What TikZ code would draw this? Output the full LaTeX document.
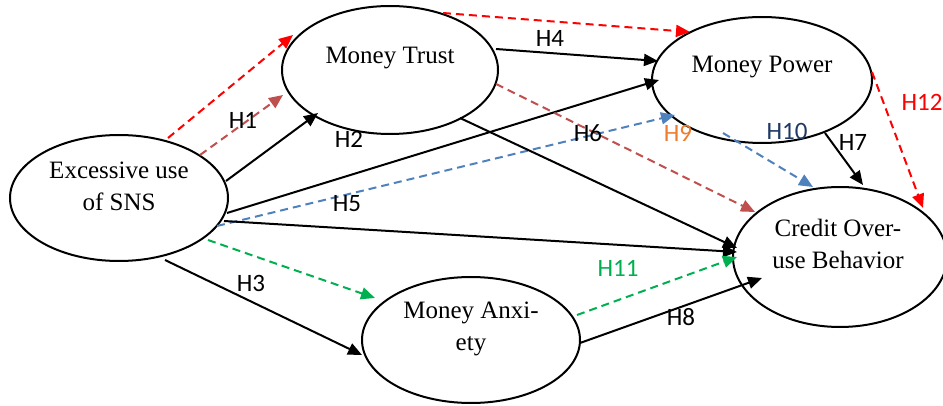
\documentclass[tikz,border=0pt]{standalone}
\usepackage{fontspec}
\setmainfont{Liberation Serif}
\newfontfamily\labfont{Carlito}
\usetikzlibrary{arrows.meta,shapes.geometric,calc}
\definecolor{cred}{HTML}{FF0000}
\definecolor{cbrown}{HTML}{C0504D}
\definecolor{cblue}{HTML}{4F81BD}
\definecolor{cgreen}{HTML}{00B050}
\definecolor{corange}{HTML}{ED7D31}
\definecolor{cnavy}{HTML}{1F3864}
\tikzset{
  oval/.style={ellipse, draw=black, line width=2pt, inner sep=0pt},
  txt/.style={font=\fontsize{25}{32}\selectfont, align=center, inner sep=0pt},
  hlab/.style={font=\labfont\fontsize{25}{28}\selectfont, inner sep=0pt},
  conn/.style={line width=2pt, -{Triangle[length=14pt,width=12pt]}},
  dconn/.style={conn, dash pattern=on 8pt off 5pt},
}
\begin{document}
\begin{tikzpicture}[x=1pt,y=-1pt]
\useasboundingbox (0,0) rectangle (943,406);
% ellipses
\node[oval, minimum width=218pt, minimum height=126pt] (sns) at (119,198) {};
\node[oval, minimum width=216pt, minimum height=128pt] (mt) at (390,70) {};
\node[oval, minimum width=220pt, minimum height=126pt] (mp) at (762,80) {};
\node[oval, minimum width=214pt, minimum height=140pt] (cob) at (840,257) {};
\node[oval, minimum width=218pt, minimum height=126pt] (ma) at (471,340) {};
% texts
\node[txt] (snsT) at ($(sns)+(0,-12)$) {Excessive use\\of SNS};
\node[txt] (mtT) at ($(mt)+(0,-12)$) {Money Trust};
\node[txt] (mpT) at ($(mp)+(0,-13)$) {Money Power};
\node[txt] (cobT) at ($(cob)+(-2,-13)$) {Credit Over-\\use Behavior};
\node[txt] (maT) at ($(ma)+(0,-11)$) {Money Anxi-\\ety};
% connectors from SNS
\draw[dconn, cred] ($(sns)+(49,-60)$) -- ($(mt)+(-97,-35)$);
\draw[dconn, cbrown] ($(sns)+(81,-43)$) -- ($(mt)+(-107,25)$);
\draw[conn] ($(sns)+(107,-17)$) -- ($(mt)+(-72,43)$);
\draw[conn] ($(sns)+(108,15)$) -- ($(mp)+(-103,0)$);
\draw[dconn, cblue] ($(sns)+(98,28)$) -- ($(mp)+(-87,35)$);
\draw[conn] ($(sns)+(105,23)$) -- ($(cob)+(-103,-5)$);
\draw[dconn, cgreen] ($(sns)+(89,42)$) -- ($(ma)+(-96,-42)$);
\draw[conn] ($(sns)+(46,62)$) -- ($(ma)+(-109,15)$);
% from Money Trust
\draw[dconn, cred] ($(mt)+(53,-57)$) -- ($(mp)+(-72,-48)$);
\draw[conn] ($(mt)+(106,-21)$) -- ($(mp)+(-104,-19)$);
\draw[dconn, cbrown] ($(mt)+(106,14)$) -- ($(cob)+(-85,-45)$);
\draw[conn] ($(mt)+(70,48)$) -- ($(cob)+(-103,-9)$);
% from Money Power
\draw[dconn, cblue] ($(mp)+(-39,53)$) -- ($(cob)+(-27,-70)$);
\draw[conn] ($(mp)+(63,53)$) -- ($(cob)+(23,-72)$);
\draw[dconn, cred] ($(mp)+(110,-8)$) -- ($(cob)+(83,-49)$);
% from Money Anxiety
\draw[dconn, cgreen] ($(ma)+(106,-25)$) -- ($(cob)+(-103,0)$);
\draw[conn] ($(ma)+(109,3)$) -- ($(cob)+(-78,21)$);
% labels
\node[hlab] (h1) at (243,120) {H1};
\node[hlab] (h2) at (349,139) {H2};
\node[hlab] (h3) at (251,283) {H3};
\node[hlab] (h4) at (550,38) {H4};
\node[hlab] (h5) at (347,204) {H5};
\node[hlab] (h6) at (588,133) {H6};
\node[hlab] (h7) at (853,142) {H7};
\node[hlab] (h8) at (681,317) {H8};
\node[hlab, text=corange] (h9) at (678,133) {H9};
\node[hlab, text=cnavy] (h10) at (787,131) {H10};
\node[hlab, text=cgreen] (h11) at (618,268) {H11};
\node[hlab, text=cred] (h12) at (922,102) {H12};
\end{tikzpicture}
\end{document}
